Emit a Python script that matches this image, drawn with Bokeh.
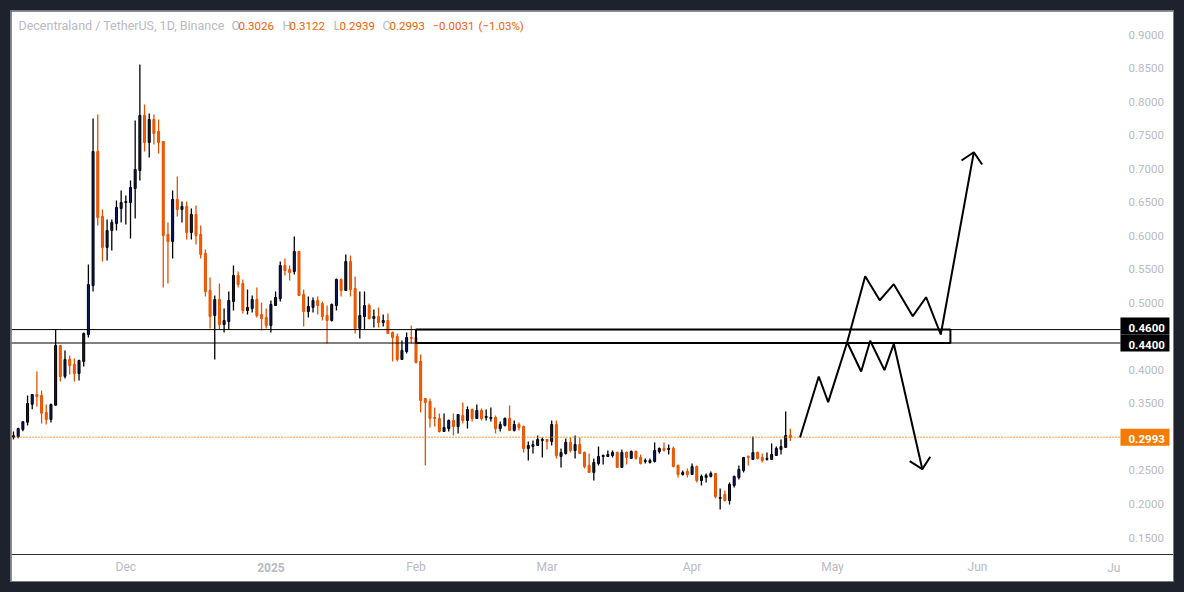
import numpy as np
import pandas as pd
from bokeh.embed import file_html
from bokeh.models import (ColumnDataSource, DatetimeTickFormatter, FixedTicker,
                          GlobalInlineStyleSheet, Label, NumeralTickFormatter, Range1d)
from bokeh.plotting import figure
from bokeh.resources import INLINE

first_day = "2024-11-07"
day_ms = 86400000

opens = [.2996,.3002,.3111,.3220,.3487,.3632,.3618,.3364,.3260,.3473,.4364,.3901,.4155,.4080,.3946,.4125,.4527,.5257,.7255,.6287,
         .5825,.6078,.6182,.6406,.6495,.6495,.6704,.6972,.7792,.7390,.7733,.7554,.7405,.6018,.5914,.6540,.6391,.6436,.6048,.6317,
         .6018,.5735,.5183,.4810,.5049,.4676,.4721,.5019,.5407,.5287,.4885,.4915,.5049,.4825,.4780,.4661,.4959,.5064,.5556,.5496,
         .5466,.5765,.5124,.4870,.4930,.5034,.4989,.4810,.4736,.4959,.5347,.5183,.5615,.5213,.4617,.4795,.4959,.4765,.4795,.4706,
         .4736,.4557,.4497,.4155,.4274,.4482,.4482,.4125,.3573,.3528,.3290,.3275,.3081,.3125,.3245,.3155,.3319,.3245,.3409,.3275,
         .3394,.3290,.3275,.3290,.3125,.3170,.3275,.3096,.3185,.3155,.2828,.2857,.2872,.2947,.2962,.2932,.3185,.2708,.2753,.2917,
         .2798,.2887,.2768,.2574,.2470,.2604,.2708,.2708,.2723,.2768,.2545,.2768,.2679,.2783,.2694,.2634,.2619,.2634,.2783,.2828,
         .2813,.2828,.2574,.2440,.2485,.2440,.2559,.2350,.2395,.2410,.2455,.2082,.2142,.2052,.2276,.2395,.2500,.2709,.2664,.2768,
         .2694,.2664,.2664,.2723,.2813,.2843,.3026]
highs = [.3081,.3136,.3230,.3618,.3635,.3975,.3692,.3483,.3498,.4597,.4364,.4289,.4214,.4170,.4150,.4557,.5570,.7748,.7807,.6391,
         .6242,.6242,.6525,.6674,.6600,.6823,.7718,.8553,.7956,.7822,.7807,.7733,.7405,.6197,.6674,.6883,.6510,.6510,.6406,.6451,
         .6153,.5795,.5377,.5109,.5287,.4914,.5168,.5556,.5466,.5347,.5198,.5109,.5228,.5004,.4914,.5034,.5168,.5615,.5660,.5556,
         .5988,.5765,.5198,.5094,.5079,.5094,.5019,.4959,.4989,.5362,.5362,.5720,.5705,.5392,.5168,.5168,.4989,.4900,.4930,.4825,
         .4840,.4572,.4542,.4438,.4557,.4661,.4602,.4229,.3573,.3573,.3439,.3349,.3349,.3260,.3349,.3334,.3513,.3454,.3424,.3483,
         .3424,.3409,.3439,.3319,.3230,.3290,.3469,.3245,.3215,.3170,.2932,.2947,.3021,.2992,.2962,.3245,.3245,.2828,.2977,.2992,
         .3021,.2992,.2783,.2753,.2678,.2857,.2738,.2798,.2798,.2783,.2813,.2783,.2798,.2798,.2738,.2679,.2679,.2917,.2843,.2917,
         .2887,.2857,.2589,.2500,.2530,.2604,.2574,.2440,.2455,.2485,.2455,.2231,.2201,.2320,.2425,.2574,.2694,.2723,.3007,.2783,
         .2753,.2768,.2902,.2857,.2962,.3379,.3122]
lows = [.2962,.2981,.3085,.3170,.3413,.3454,.3200,.3185,.3215,.3470,.3826,.3871,.3931,.3826,.3841,.4050,.4482,.5168,.6153,.5615,
        .5630,.5780,.6078,.6197,.6167,.5959,.6257,.6823,.7255,.7166,.7360,.7226,.5228,.5287,.5660,.6287,.6197,.5944,.5944,.5869,
        .5660,.5094,.4617,.4155,.4602,.4557,.4602,.4885,.5228,.4840,.4825,.4855,.4780,.4587,.4617,.4557,.4959,.5019,.5407,.5332,
        .5422,.5109,.4646,.4780,.4855,.4825,.4736,.4393,.4721,.4885,.5094,.5183,.5094,.4542,.4467,.4602,.4750,.4631,.4631,.4646,
        .4542,.4125,.4125,.4155,.4244,.4393,.4095,.3364,.2574,.3140,.3155,.3066,.3081,.3081,.3021,.3051,.3200,.3125,.3230,.3275,
        .3245,.3245,.3230,.3051,.3081,.3155,.3096,.3081,.3096,.2768,.2649,.2753,.2872,.2694,.2813,.2872,.2678,.2544,.2738,.2768,
        .2678,.2753,.2529,.2470,.2350,.2574,.2589,.2708,.2693,.2545,.2545,.2589,.2679,.2664,.2589,.2604,.2604,.2619,.2753,.2783,
        .2738,.2545,.2395,.2425,.2395,.2440,.2320,.2276,.2320,.2395,.2082,.1918,.2037,.1992,.2246,.2365,.2470,.2574,.2664,.2664,
        .2619,.2649,.2664,.2723,.2738,.2843,.2939]
closes = [.3017,.3126,.3226,.3498,.3632,.3603,.3354,.3260,.3483,.4364,.3901,.4155,.4065,.3946,.4140,.4542,.5272,.7255,.6272,.5825,
          .6078,.6197,.6421,.6495,.6510,.6719,.6987,.7792,.7390,.7733,.7524,.7390,.6003,.5914,.6540,.6391,.6436,.6048,.6317,.6003,
          .5720,.5168,.4795,.5049,.4676,.4736,.5034,.5407,.5272,.4885,.4930,.5049,.4810,.4765,.4661,.4974,.5079,.5556,.5481,.5451,
          .5765,.5109,.4870,.4945,.5034,.4959,.4795,.4736,.4974,.5347,.5183,.5615,.5198,.4617,.4810,.4959,.4765,.4795,.4706,.4736,
          .4542,.4482,.4155,.4289,.4482,.4467,.4110,.3543,.3513,.3275,.3275,.3081,.3140,.3245,.3155,.3334,.3245,.3409,.3275,.3394,
          .3275,.3305,.3290,.3125,.3185,.3275,.3096,.3185,.3140,.2828,.2872,.2887,.2962,.2962,.2932,.3185,.2723,.2768,.2917,.2798,
          .2887,.2753,.2559,.2470,.2619,.2708,.2723,.2738,.2768,.2545,.2768,.2694,.2783,.2679,.2604,.2649,.2649,.2798,.2828,.2798,
          .2828,.2559,.2440,.2470,.2440,.2559,.2350,.2410,.2425,.2455,.2112,.2097,.2052,.2291,.2410,.2514,.2694,.2694,.2768,.2679,
          .2649,.2679,.2738,.2828,.2857,.3021,.2993]

price_ticks = [.15, .20, .25, .35, .40, .50, .55, .60, .65, .70, .75, .80, .85, .90]
month_ticks = ["2024-12-01", "2025-02-01", "2025-03-01", "2025-04-01", "2025-05-01", "2025-06-01"]
zone_levels = [.46, .44]
zone_days = [86, 200.2]
# the two zone tags would overlap, the upper one sits a bit higher on the scale
tag_prices = [.4653, .4400, .2993]
tag_texts = ["0.4600", "0.4400", "0.2993"]

# hand drawn projection, days counted from the first candle
up_days = [168.06, 172.07, 174.08, 178.14, 181.99, 185.1, 188.1, 192.16, 195.0, 198.14, 205.2]
up_prices = [.2991, .3901, .3518, .4412, .5396, .5038, .5277, .4800, .5083, .4527, .7245]
up_head_days = [202.56, 205.2, 206.99]
up_head_prices = [.7121, .7245, .7062]
down_days = [178.14, 181.13, 183.06, 186.11, 188.1, 194.2]
down_prices = [.4412, .3975, .4433, .3995, .4388, .2519]
down_head_days = [191.5, 194.2, 195.9]
down_head_prices = [.2638, .2519, .2704]

UP = "#0b1a66"
DOWN = "#f26000"
DOWN_EDGE = "#e65100"
TAG = "#f57c00"
GREY = "#b8bac3"
FONT = "Roboto"


def ms(day):
    return start_ms + np.asarray(day, dtype=float) * day_ms


start_ms = pd.Timestamp(first_day).value / 1e6
days = np.arange(len(opens))
o, h, l, c = map(np.array, (opens, highs, lows, closes))
rising = c >= o
src_up = ColumnDataSource(dict(x=ms(days[rising]), o=o[rising], h=h[rising], l=l[rising], c=c[rising]))
src_down = ColumnDataSource(dict(x=ms(days[~rising]), o=o[~rising], h=h[~rising], l=l[~rising], c=c[~rising]))

# axes are pinned inside the frame so the price tags and the clipped label can reach them
chart_end_day = 236.55
tag_center_day = 241.77
price_floor = .1247
p = figure(width=1162, height=570, x_axis_type="datetime", y_axis_location="right",
           x_range=Range1d(float(ms(-0.43)), float(ms(247.87))), y_range=Range1d(.0844, .9343),
           output_backend="svg", toolbar_location=None, margin=(11, 0, 0, 11),
           min_border_left=0, min_border_top=0, min_border_right=0, min_border_bottom=0,
           background_fill_color="white", border_fill_color="white",
           outline_line_color=None, styles={"outline": "1px solid #787b86"})
p.stylesheets = [GlobalInlineStyleSheet(css="html,body{background:#1e222d}")]
p.grid.visible = False

p.segment("x", "h", "x", "l", source=src_up, color="black", line_width=1.3)
p.segment("x", "h", "x", "l", source=src_down, color=DOWN_EDGE, line_width=1.3)
bar_w = 0.43 * day_ms
p.vbar("x", bar_w, "o", "c", source=src_up, fill_color=UP, line_color="black", line_width=1)
p.vbar("x", bar_w, "o", "c", source=src_down, fill_color=DOWN, line_color=DOWN_EDGE, line_width=1)

left_x, right_x = float(ms(-0.43)), float(ms(chart_end_day))
p.line([left_x, right_x], [closes[-1]] * 2, line_color=TAG, line_width=1.5, line_dash=[1, 2])
for level in zone_levels:
    p.line([left_x, right_x], [level] * 2, line_color="black", line_width=1)
p.quad(left=[float(ms(zone_days[0]))], right=[float(ms(zone_days[1]))], top=[zone_levels[0]], bottom=[zone_levels[1]],
       fill_alpha=0, line_color="black", line_width=2)
for xs, ys in [(up_days, up_prices), (up_head_days, up_head_prices), (down_days, down_prices), (down_head_days, down_head_prices)]:
    p.line(ms(xs), ys, line_color="black", line_width=2)

tag_colors = ["black", "black", TAG]
p.rect(x=[float(ms(tag_center_day))] * 3, y=tag_prices, width=49, height=17, width_units="screen", height_units="screen",
       fill_color=tag_colors, line_color=None)

xaxis, yaxis = p.xaxis[0], p.yaxis[0]
xaxis.fixed_location = price_floor
yaxis.fixed_location = right_x
xaxis.ticker = FixedTicker(ticks=[pd.Timestamp(d).value / 1e6 for d in month_ticks])
xaxis.formatter = DatetimeTickFormatter(days="%b", months="%b", years="%b")
yaxis.ticker = FixedTicker(ticks=price_ticks)
yaxis.formatter = NumeralTickFormatter(format="0.0000")
for axis in (xaxis, yaxis):
    axis.major_tick_line_color = None
    axis.minor_tick_line_color = None
    axis.major_tick_out = 0
    axis.major_tick_in = 0
    axis.major_label_text_color = GREY
    axis.major_label_text_font = FONT
    axis.major_label_text_font_size = "12px"
    axis.major_label_standoff = 6
yaxis.major_label_text_font_size = "11.5px"
yaxis.major_label_standoff = 8
xaxis.axis_line_color = "#2a2e39"
yaxis.axis_line_color = None


def text(x, y, s, color=GREY, size="11.5px", **kw):
    p.add_layout(Label(x=x, y=y, text=s, text_color=color, text_font=FONT, text_font_size=size,
                       text_baseline="middle", **kw))


header = [(7, "Decentraland / TetherUS, 1D, Binance", GREY, "12.5px"), (220, "O", GREY, "12.5px"), (227, "0.3026", DOWN, "11.5px"),
          (271, "H", GREY, "12.5px"), (278, "0.3122", DOWN, "11.5px"), (322, "L", GREY, "12.5px"), (328, "0.2939", DOWN, "11.5px"),
          (371, "C", GREY, "12.5px"), (378, "0.2993", DOWN, "11.5px"), (421, "\u22120.0031", DOWN, "11.5px"),
          (467, "(\u22121.03%)", DOWN, "11.5px")]
for x, s, color, size in header:
    text(x, 14, s, color, size, x_units="canvas", y_units="canvas")

text(float(ms(55)), 556, "2025", size="12px", x_units="data", y_units="canvas", text_align="center", text_font_style="bold")
text(float(ms(236)), 556, "Ju", size="12px", x_units="data", y_units="canvas", text_align="right", x_offset=2.5)

for price, label in zip(tag_prices, tag_texts):
    text(1117, price, label, "white", x_units="canvas", y_units="data", y_offset=-1.5, text_font_style="bold")

open("out.html", "w").write(file_html(p, INLINE))
